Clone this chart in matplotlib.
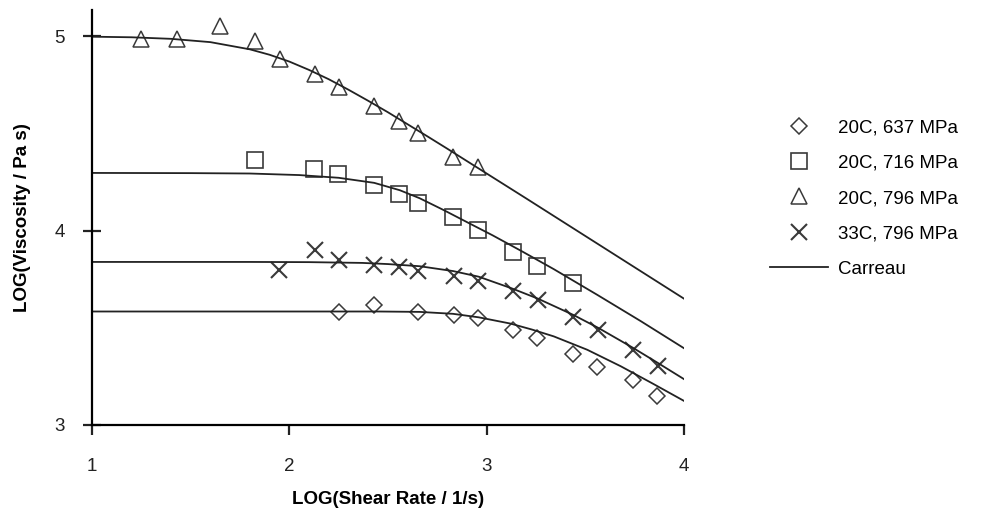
import matplotlib
matplotlib.use('Agg')
import matplotlib.pyplot as plt

plt.rcParams['font.family'] = ['Liberation Sans', 'DejaVu Sans']

# Measured points: LOG(shear rate), LOG(viscosity)
x_637 = [2.253, 2.431, 2.651, 2.832, 2.955, 3.132, 3.257, 3.436, 3.561, 3.740, 3.865]
y_637 = [3.579, 3.619, 3.581, 3.567, 3.553, 3.490, 3.450, 3.364, 3.300, 3.232, 3.149]

x_716 = [1.826, 2.127, 2.248, 2.431, 2.554, 2.651, 2.828, 2.955, 3.132, 3.257, 3.436]
y_716 = [4.361, 4.318, 4.294, 4.237, 4.191, 4.144, 4.070, 4.001, 3.892, 3.820, 3.731]

x_796 = [1.248, 1.431, 1.649, 1.826, 1.953, 2.130, 2.252, 2.429, 2.556, 2.652, 2.830, 2.957]
y_796 = [4.985, 4.985, 5.052, 4.974, 4.881, 4.804, 4.737, 4.639, 4.562, 4.505, 4.381, 4.325]

x_33c = [1.949, 2.130, 2.252, 2.431, 2.554, 2.651, 2.832, 2.958, 3.135, 3.262, 3.439, 3.566, 3.740, 3.867]
y_33c = [3.799, 3.902, 3.851, 3.825, 3.813, 3.794, 3.768, 3.739, 3.687, 3.644, 3.558, 3.490, 3.387, 3.304]

# Carreau fit lines
cx_796 = [1.0, 1.2, 1.4, 1.6, 1.8, 1.9, 2.0, 2.1, 2.2, 2.3, 2.4, 2.5, 2.6, 2.7, 2.8, 2.9, 3.0, 3.2, 3.4, 3.6, 3.8, 4.0]
cy_796 = [4.998, 4.995, 4.987, 4.970, 4.933, 4.905, 4.870, 4.827, 4.779, 4.725, 4.668, 4.609, 4.547,
          4.485, 4.422, 4.358, 4.294, 4.166, 4.037, 3.908, 3.779, 3.650]

cx_716 = [1.0, 1.5, 1.8, 2.05, 2.25, 2.43, 2.56, 2.66, 2.78, 2.9, 3.03, 3.18, 3.34, 3.56, 3.78, 4.0]
cy_716 = [4.297, 4.296, 4.294, 4.286, 4.272, 4.246, 4.208, 4.167, 4.107, 4.044, 3.976, 3.893, 3.802,
          3.670, 3.535, 3.395]

cx_33c = [1.0, 1.8, 2.1, 2.37, 2.5, 2.66, 2.83, 2.96, 3.13, 3.26, 3.44, 3.565, 3.74, 3.86, 4.0]
cy_33c = [3.839, 3.839, 3.838, 3.834, 3.828, 3.817, 3.792, 3.763, 3.702, 3.650, 3.566, 3.500, 3.398,
          3.324, 3.236]

cx_637 = [1.0, 2.05, 2.45, 2.66, 2.83, 2.96, 3.12, 3.23, 3.34, 3.51, 3.68, 3.84, 4.0]
cy_637 = [3.584, 3.584, 3.584, 3.582, 3.572, 3.554, 3.522, 3.491, 3.456, 3.387, 3.302, 3.214, 3.124]

xticks = [1, 2, 3, 4]
yticks = [3, 4, 5]

mec = '#3a3a3a'
lc = '#222222'
fs = 13.5

fig = plt.figure(figsize=(9.88, 5.11), dpi=100, facecolor='w')
ax = fig.add_axes([0.0931, 0.1683, 0.5992, 0.812])

ax.plot(x_637, y_637, ls='none', marker='D', ms=8, mfc='none', mec=mec, mew=1.1, label='20C, 637 MPa', clip_on=False)
ax.plot(x_716, y_716, ls='none', marker='s', ms=11, mfc='none', mec=mec, mew=1.2, label='20C, 716 MPa', clip_on=False)
ax.plot(x_796, y_796, ls='none', marker='^', ms=12, mfc='none', mec=mec, mew=1.1, label='20C, 796 MPa', clip_on=False)
ax.plot(x_33c, y_33c, ls='none', marker='x', ms=12, mec=mec, mew=1.5, label='33C, 796 MPa', clip_on=False)

ax.plot(cx_796, cy_796, color=lc, lw=1.3, label='Carreau')
ax.plot(cx_716, cy_716, color=lc, lw=1.3)
ax.plot(cx_33c, cy_33c, color=lc, lw=1.3)
ax.plot(cx_637, cy_637, color=lc, lw=1.3)

ax.set_xlim(1, 4)
ax.set_ylim(3, 5.135)
ax.set_xticks(xticks)
ax.set_yticks(yticks)
ax.spines['top'].set_visible(False)
ax.spines['right'].set_visible(False)
ax.spines['left'].set_linewidth(1.6)
ax.spines['bottom'].set_linewidth(1.6)
ax.tick_params(axis='y', direction='inout', length=13, width=1.6, pad=13, labelsize=fs, colors='#222222')
ax.tick_params(axis='x', direction='out', length=7, width=1.6, pad=17, labelsize=fs, colors='#222222')

ax.set_xlabel('LOG(Shear Rate / 1/s)', fontsize=fs, fontweight='bold', labelpad=11)
ax.set_ylabel('LOG(Viscosity / Pa s)', fontsize=fs, fontweight='bold', labelpad=17)

ax.legend(loc='center left', bbox_to_anchor=(1.145, 0.546), frameon=False, fontsize=fs,
          numpoints=1, handlelength=3.1, handletextpad=0.55, labelspacing=0.97, borderpad=0, borderaxespad=0)

fig.savefig('out.png', dpi=100, facecolor='w')
